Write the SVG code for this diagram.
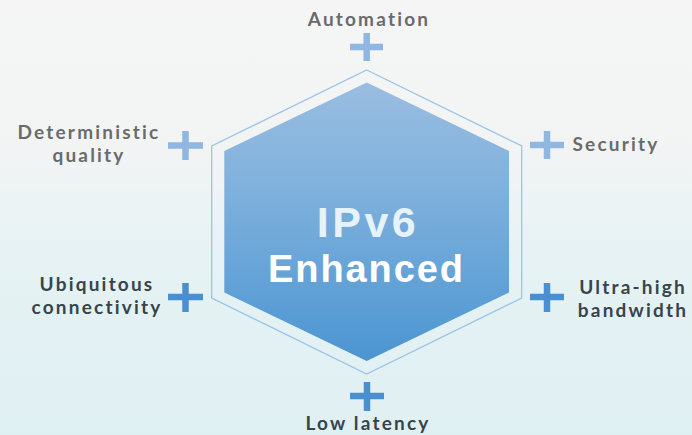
<svg xmlns="http://www.w3.org/2000/svg" width="692" height="435" viewBox="0 0 692 435">
<defs>
<linearGradient id="bg" x1="0" y1="0" x2="0" y2="1">
<stop offset="0" stop-color="#f5f5f5"/>
<stop offset="0.35" stop-color="#f2f4f4"/>
<stop offset="0.6" stop-color="#e6f2f4"/>
<stop offset="1" stop-color="#dff0f3"/>
</linearGradient>
<linearGradient id="hex" x1="0" y1="0" x2="0" y2="1">
<stop offset="0" stop-color="#9abde1"/>
<stop offset="0.4" stop-color="#7eb0dc"/>
<stop offset="1" stop-color="#4b95d2"/>
</linearGradient>
<style>
.lbl{font-family:Lato,"Open Sans","Liberation Sans",sans-serif;font-weight:bold;font-size:19px;text-anchor:middle;letter-spacing:2.2px}
.gray{fill:#6b6b6b}
.dark{fill:#36454a}
.plus{stroke-width:6.5;fill:none}
.center{font-family:"Liberation Sans",Arial,sans-serif;font-weight:bold;text-anchor:middle}
</style>
</defs>
<rect width="692" height="435" fill="url(#bg)"/>
<g id="hexagon">
<polygon points="366.7,70 521.7,146 521.7,298 366.7,374 211.7,298 211.7,146" fill="none" stroke="#9cc3e8" stroke-width="1.3"/>
<polygon points="366.7,82.5 509,151 509,292.5 366.7,361 224.3,292.5 224.3,151" fill="url(#hex)"/>
<text class="center" x="368" y="237" font-size="43" fill="#e6f3fa" letter-spacing="3.5">IPv6</text>
<text class="center" x="366.5" y="282" font-size="38" fill="#ffffff" letter-spacing="1.9">Enhanced</text>
</g>
<g id="connectors">
<path class="plus" stroke="#8fb7e1" d="M350,47H383M366.7,33V61"/>
<path class="plus" stroke="#8fb7e1" d="M168,145.5H203M185.5,131V160"/>
<path class="plus" stroke="#8fb7e1" d="M530,145H564M547,131V159"/>
<path class="plus" stroke="#4a8fd0" d="M168,297H203M185.5,283V312"/>
<path class="plus" stroke="#4a8fd0" d="M530,297H564M547,283V312"/>
<path class="plus" stroke="#4a8fd0" d="M350,396H384M367,382V411"/>
</g>
<g id="automation"><text class="lbl gray" x="369" y="26">Automation</text></g>
<g id="deterministic"><text class="lbl gray"><tspan x="89" y="138.5">Deterministic</tspan><tspan x="89" y="161.5">quality</tspan></text></g>
<g id="security"><text class="lbl gray" x="616" y="151">Security</text></g>
<g id="ubiquitous"><text class="lbl dark"><tspan x="97" y="290.5">Ubiquitous</tspan><tspan x="97" y="313.5">connectivity</tspan></text></g>
<g id="ultra"><text class="lbl dark"><tspan x="633" y="293.5">Ultra-high</tspan><tspan x="633" y="316.5">bandwidth</tspan></text></g>
<g id="latency"><text class="lbl dark" x="368" y="430">Low latency</text></g>
</svg>
